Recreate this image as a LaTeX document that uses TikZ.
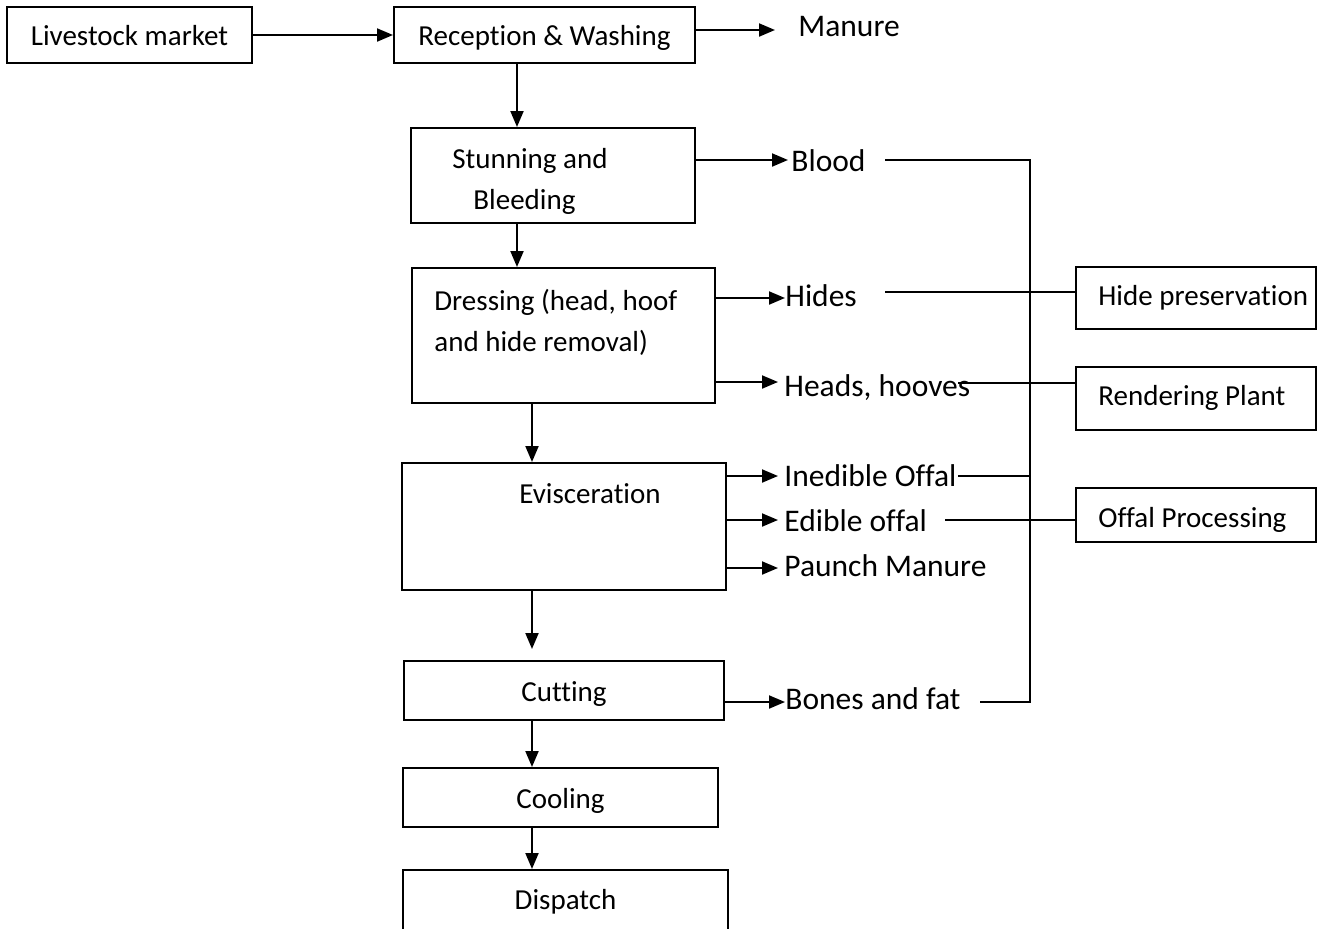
\documentclass[tikz,border=0pt]{standalone}
\usepackage{fontspec}
\setmainfont{Carlito}[RawFeature={-liga}]
\usetikzlibrary{arrows.meta}
\begin{document}
\begin{tikzpicture}[x=0.5pt,y=-0.5pt,
  box/.style={draw, line width=1pt, inner sep=0pt, text height=10.75pt, text depth=0pt,
    font=\fontsize{14.5}{20.5}\selectfont},
  txt/.style={inner sep=0pt, font=\fontsize{14.5}{20.5}\selectfont},
  lbl/.style={inner sep=0pt, anchor=base west, font=\fontsize{15.75}{19}\selectfont},
  arr/.style={line width=1pt, -{Triangle[length=8pt,width=6.5pt]}},
  ln/.style={line width=0.9pt}]
\clip (0,0) rectangle (1323,928);
\fill[white] (0,0) rectangle (1323,928);

% process boxes
\node[box, minimum width=122.5pt, minimum height=28pt] (lm) at (129.5,35) {Livestock market};
\node[box, minimum width=150.5pt, minimum height=28pt] (rw) at (544.5,35) {Reception \& Washing};
\node[box, minimum width=142pt, minimum height=47.5pt] (sb) at (553,175.5) {};
\node[box, minimum width=151.5pt, minimum height=67.5pt] (dr) at (563.5,335.5) {};
\node[box, minimum width=162pt, minimum height=63.5pt] (ev) at (564,526.5) {};
\node[box, minimum width=160pt, minimum height=29.5pt] (cu) at (564,690.5) {Cutting};
\node[box, minimum width=157.5pt, minimum height=29.5pt] (co) at (560.5,797.5) {Cooling};
\node[box, minimum width=162.5pt, minimum height=40pt] (di) at (565.5,910) {};
% destination boxes
\node[box, minimum width=120pt, minimum height=31pt] (hp) at (1196,298) {};
\node[box, minimum width=120pt, minimum height=31.5pt] (rp) at (1196,398.5) {};
\node[box, minimum width=120pt, minimum height=27pt] (op) at (1196,515) {};

% box texts
\node[txt, anchor=base west] (sbt1) at (452,168) {Stunning and};
\node[txt, anchor=base west] (sbt2) at (473,209) {Bleeding};
\node[txt, anchor=base west] (drt1) at (434,310) {Dressing (head, hoof};
\node[txt, anchor=base west] (drt2) at (434,351) {and hide removal)};
\node[txt, anchor=base] (evt) at (590,503) {Evisceration};
\node[txt, anchor=base] (dit) at (565.5,909) {Dispatch};
\node[txt, anchor=base west] (hpt) at (1098,305) {Hide preservation};
\node[txt, anchor=base west] (rpt) at (1098,405) {Rendering Plant};
\begin{scope}
  \clip (1076,488) rectangle (1316,531);
  \node[txt, anchor=base west] (opt) at (1098,527) {Offal Processing};
\end{scope}

% by-product labels
\node[lbl] (manure) at (798,36) {Manure};
\node[lbl] (blood) at (791,171) {Blood};
\node[lbl] (hides) at (785,306) {Hides};
\node[lbl] (heads) at (784,396) {Heads, hooves};
\node[lbl] (inedible) at (784,486) {Inedible Offal};
\node[lbl] (edible) at (784,531) {Edible offal};
\node[lbl] (paunch) at (784,576) {Paunch Manure};
\node[lbl] (bones) at (785,709) {Bones and fat};

% main flow
\draw[arr] (lm.east) -- (rw.west);
\draw[arr] (517,0 |- rw.south) -- (517,0 |- sb.north);
\draw[arr] (517,0 |- sb.south) -- (517,0 |- dr.north);
\draw[arr] (532,0 |- dr.south) -- (532,0 |- ev.north);
\draw[arr, shorten >=5.5pt] (532,0 |- ev.south) -- (532,0 |- cu.north);
\draw[arr] (532,0 |- cu.south) -- (532,0 |- co.north);
\draw[arr] (532,0 |- co.south) -- (532,0 |- di.north);

% by-product arrows
\draw[arr, shorten >=11.5pt] (rw.east |- 0,30) -- (manure.west |- 0,30);
\draw[arr, shorten >=1.5pt] (sb.east |- 0,160) -- (blood.west |- 0,160);
\draw[arr] (dr.east |- 0,298) -- (hides.west |- 0,298);
\draw[arr, shorten >=3pt] (dr.east |- 0,382) -- (heads.west |- 0,382);
\draw[arr, shorten >=3pt] (ev.east |- 0,476) -- (inedible.west |- 0,476);
\draw[arr, shorten >=3pt] (ev.east |- 0,520) -- (edible.west |- 0,520);
\draw[arr, shorten >=3pt] (ev.east |- 0,568) -- (paunch.west |- 0,568);
\draw[arr] (cu.east |- 0,702) -- (bones.west |- 0,702);

% collecting lines
\coordinate (busTop) at (1030,160);
\coordinate (busBot) at (1030,702);
\coordinate (bloodEnd) at (885,160);
\coordinate (hidesEnd) at (885,292);
\coordinate (headsEnd) at (958,383);
\coordinate (inedEnd) at (958,476);
\coordinate (edEnd) at (945,520);
\coordinate (bonesEnd) at (980,702);
\draw[ln] (bloodEnd) -- (busTop) -- (busBot) -- (bonesEnd);
\draw[ln] (hidesEnd) -- (hidesEnd -| hp.west);
\draw[ln] (headsEnd) -- (headsEnd -| rp.west);
\draw[ln] (inedEnd) -- (inedEnd -| busTop);
\draw[ln] (edEnd) -- (edEnd -| op.west);
\end{tikzpicture}
\end{document}
